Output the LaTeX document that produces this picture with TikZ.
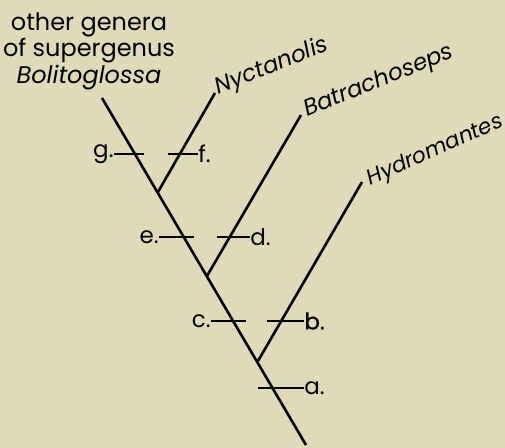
\documentclass[tikz,border=0pt]{standalone}
\usepackage{fontspec}
\setmainfont{Poppins}
\definecolor{paper}{HTML}{DFDAB9}
\begin{document}
\begin{tikzpicture}[x=0.5pt,y=-0.5pt,line cap=butt,
  every node/.style={inner sep=0pt,font=\fontsize{11.5}{13}\selectfont},
  branch/.style={line width=1.3pt},
  tick/.style={line width=0.9pt},
  taxon/.style={anchor=base west,rotate=22}]
  \fill[paper] (0,0) rectangle (505,448);
  \useasboundingbox (0,0) rectangle (505,448);

  % Puntos del tronco
  \coordinate (r) at (306,445);
  \coordinate (n1) at (258,361);
  \coordinate (n2) at (207,276);
  \coordinate (n3) at (158,192);
  \coordinate (t0) at (102,98);

  % Extremos de las ramas
  \coordinate (t1) at (215,93);
  \coordinate (t2) at (301,115);
  \coordinate (t3) at (362,182);

  % Ramas
  \foreach \from/\to in {r/t0, n3/t1, n2/t2, n1/t3}
    \draw[branch] (\from) -- (\to);

  % Nombres de los taxones
  \node[align=center,font=\fontsize{12}{13.2}\selectfont] (bol) at (89,51)
    {other genera\\of supergenus\\\itshape Bolitoglossa};
  \node[taxon] (nyc) at (218,95) {\itshape Nyctanolis};
  \node[taxon] (bat) at (307,117) {\itshape Batrachoseps};
  \node[taxon,rotate=2,font=\fontsize{10.8}{13}\selectfont] (hyd) at (370,186) {\itshape Hydromantes};

  % Caracteres a la izquierda
  \node[anchor=east] (g) at (114,154) {g.};
  \node[anchor=east] (e) at (159,237) {e.};
  \node[anchor=east] (c) at (211,321) {c.};
  \coordinate (g') at (144,154);
  \coordinate (e') at (194,237);
  \coordinate (c') at (246,321);
  \foreach \from/\to in {g/g', e/e', c/c'}
    \draw[tick] (\from.east) -- (\to);

  % Caracteres a la derecha
  \node[anchor=west] (f) at (198,154) {f.};
  \node[anchor=west] (d) at (250,237) {d.};
  \node[anchor=west] (b) at (304,321) {\addfontfeatures{FakeBold=0.6}b.};
  \node[anchor=west] (a) at (304,388) {a.};
  \coordinate (f') at (168,154);
  \coordinate (d') at (217,237);
  \coordinate (b') at (267,321);
  \coordinate (a') at (258,388);
  \foreach \from/\to in {f'/f, d'/d, b'/b, a'/a}
    \draw[tick] (\from) -- (\to.west);
\end{tikzpicture}
\end{document}
